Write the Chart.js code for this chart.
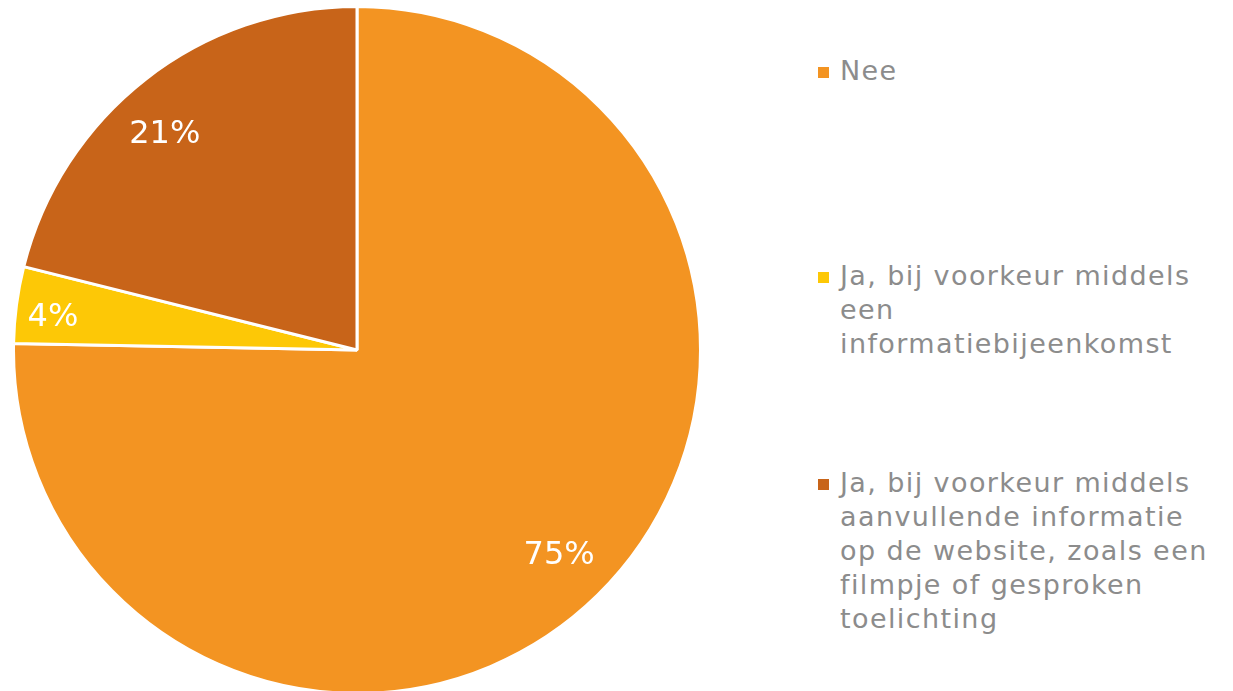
<!DOCTYPE html>
<html>
<head>
<meta charset="utf-8">
<script src="https://cdn.jsdelivr.net/npm/chart.js@4"></script>
<style>
  html, body { margin: 0; padding: 0; background: #fff; overflow: hidden; }
  body { width: 1233px; height: 691px; position: relative; font-family: "DejaVu Sans", sans-serif; }
  #pieBox { position: absolute; left: 12px; top: 5px; width: 690px; height: 690px; }
  #legend { position: absolute; left: 818px; top: 0; }
  .item { position: absolute; left: 0; display: flex; align-items: flex-start; white-space: nowrap; }
  .box { width: 11px; height: 11px; margin-top: 13px; margin-right: 11px; flex: none; }
  .txt { color: #8c8c8c; font-size: 27px; line-height: 34px; letter-spacing: 1.4px; }
</style>
</head>
<body>
<div id="pieBox"><canvas id="pieCanvas"></canvas></div>
<div id="legend"></div>
<script>
const categories = [
    ["Nee"],
    ["Ja, bij voorkeur middels", "een", "informatiebijeenkomst"],
    ["Ja, bij voorkeur middels", "aanvullende informatie", "op de website, zoals een", "filmpje of gesproken", "toelichting"]
];
const shares = [75.3, 3.6, 21.1];
const colors = ["#F39422", "#FDC806", "#C86419"];
const legendTops = [54, 259, 466];

// legend in html, built from the same arrays
const legendEl = document.getElementById("legend");
categories.forEach((lines, i) => {
    const item = document.createElement("div");
    item.className = "item";
    item.style.top = legendTops[i] + "px";
    const box = document.createElement("div");
    box.className = "box";
    box.style.background = colors[i];
    const txt = document.createElement("div");
    txt.className = "txt";
    txt.innerHTML = lines.join("<br>");
    item.appendChild(box);
    item.appendChild(txt);
    legendEl.appendChild(item);
});

const sliceLabels = {
    id: "sliceLabels",
    afterDatasetsDraw(chart) {
        const ctx = chart.ctx;
        const meta = chart.getDatasetMeta(0);
        ctx.save();
        ctx.fillStyle = "#ffffff";
        ctx.font = "32px 'DejaVu Sans'";
        ctx.textAlign = "center";
        ctx.textBaseline = "middle";
        meta.data.forEach((arc, i) => {
            // small slice: label sits a bit nearer the lower edge
            const t = i === 1 ? 0.38 : (i === 2 ? 0.45 : 0.5);
            const mid = arc.startAngle + (arc.endAngle - arc.startAngle) * t;
            const r = arc.outerRadius * (i === 1 ? 0.89 : 0.84);
            ctx.fillText(Math.round(shares[i]) + "%", arc.x + Math.cos(mid) * r, arc.y + Math.sin(mid) * r);
        });
        ctx.restore();
    }
};

new Chart(document.getElementById("pieCanvas"), {
    type: "pie",
    data: {
        labels: categories.map(l => l.join(" ")),
        datasets: [{
            data: shares,
            backgroundColor: colors,
            borderColor: "#ffffff",
            borderWidth: 3
        }]
    },
    options: {
        responsive: true,
        maintainAspectRatio: false,
        animation: false,
        layout: { padding: 0 },
        plugins: {
            legend: { display: false },
            tooltip: { enabled: false }
        }
    },
    plugins: [sliceLabels]
});
</script>
</body>
</html>
